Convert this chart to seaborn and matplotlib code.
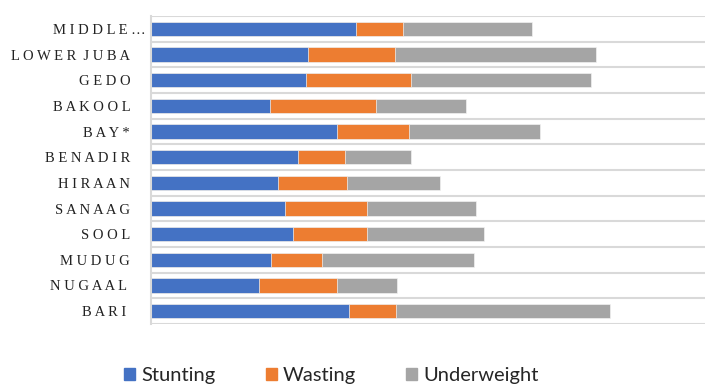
import matplotlib
matplotlib.use("Agg")
import matplotlib.pyplot as plt
from matplotlib.patches import Patch
from matplotlib.transforms import ScaledTranslation
import seaborn as sns
import pandas as pd
import numpy as np

regions = ["MIDDLE…", "LOWER JUBA", "GEDO", "BAKOOL", "BAY*", "BENADIR",
           "HIRAAN", "SANAAG", "SOOL", "MUDUG", "NUGAAL ", "BARI "]
stunting = [25.9, 19.9, 19.6, 15.0, 23.5, 18.6, 16.1, 16.9, 17.9, 15.1, 13.6, 25.0]
wasting = [5.9, 10.9, 13.3, 13.4, 9.1, 5.9, 8.7, 10.4, 9.4, 6.5, 9.9, 6.0]
underweight = [16.3, 25.4, 22.7, 11.4, 16.5, 8.3, 11.7, 13.8, 14.8, 19.2, 7.6, 27.0]

colors = {"Stunting": "#4472C4", "Wasting": "#ED7D31", "Underweight": "#A5A5A5"}


def spaced(name):
    # letter-spaced caps like the original labels, keep a trailing blank
    words = name.strip().split(" ")
    out = "  ".join(" ".join(w) for w in words)
    if name.endswith(" "):
        out += " "
    return out


df = pd.DataFrame({
    "region": [spaced(r) for r in regions],
    "Stunting": stunting,
    "Wasting": wasting,
    "Underweight": underweight,
})
df["s_w"] = df["Stunting"] + df["Wasting"]
df["total"] = df["s_w"] + df["Underweight"]

sns.set_style("white")
fig = plt.figure(figsize=(7.05, 3.84), dpi=100)
ax = fig.add_axes([151 / 705, 1 - 324 / 384, 1 - 151 / 705, (324 - 16) / 384])

# stacked by overdrawing cumulative totals
for col, key in [("total", "Underweight"), ("s_w", "Wasting"), ("Stunting", "Stunting")]:
    sns.barplot(data=df, x=col, y="region", orient="h", color=colors[key],
                width=0.55, edgecolor="#f2f2f2", linewidth=0.5, ax=ax,
                saturation=1)

ax.set_xlim(0, 70)
ax.set_ylim(len(regions) - 0.5, -0.5)
for b in np.arange(len(regions) + 1) - 0.5:
    ax.axhline(b, color="#d9d9d9", lw=1.5, zorder=0)

for s in ["top", "right", "bottom"]:
    ax.spines[s].set_visible(False)
ax.spines["left"].set_color("#d9d9d9")
ax.spines["left"].set_linewidth(1.5)

ax.set_xlabel("")
ax.set_ylabel("")
ax.set_xticks([])
ax.tick_params(axis="y", length=0, pad=15)
for i, lbl in enumerate(ax.get_yticklabels()):
    lbl.set_fontfamily("Liberation Serif")
    lbl.set_fontsize(10.5)
    lbl.set_color("#222222")
    if i == 0:
        # truncated label sits a bit further right in the original
        lbl.set_transform(lbl.get_transform() + ScaledTranslation(0.15, 0, fig.dpi_scale_trans))

handles = [Patch(color=colors[k], label=k) for k in ["Stunting", "Wasting", "Underweight"]]
fig.legend(handles=handles, loc="center", bbox_to_anchor=(0.47, 0.022), ncol=3,
           frameon=False, prop={"family": "Lato", "size": 14.5},
           handlelength=0.55, handleheight=0.55, handletextpad=0.3,
           columnspacing=2.5)

fig.savefig("out.png", dpi=100)
